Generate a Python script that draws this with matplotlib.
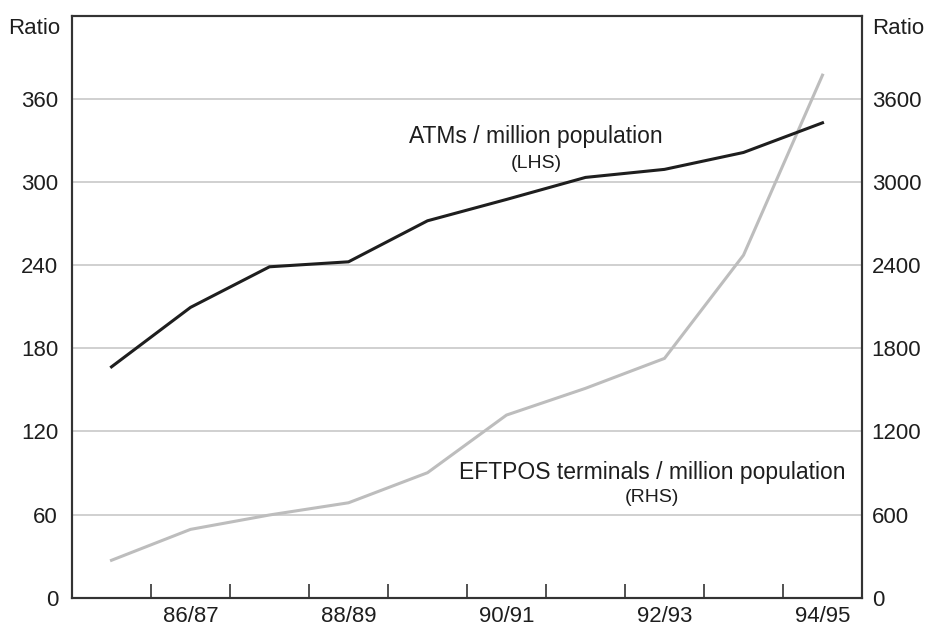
import matplotlib
matplotlib.use("Agg")
import matplotlib.pyplot as plt
import numpy as np

plt.rcParams['font.family'] = ['Liberation Sans', 'DejaVu Sans']

years = ["85/86", "86/87", "87/88", "88/89", "89/90", "90/91", "91/92", "92/93", "93/94", "94/95"]
atms = [166.6, 209.5, 238.8, 242.4, 272.0, 287.4, 303.3, 309.1, 321.3, 342.7]
eftpos = [270, 493, 597, 685, 902, 1318, 1511, 1727, 2472, 3771]
left_ticks = [0, 60, 120, 180, 240, 300, 360]
right_ticks = [0, 600, 1200, 1800, 2400, 3000, 3600]
label_years = ["86/87", "88/89", "90/91", "92/93", "94/95"]

fig = plt.figure(figsize=(9.28, 6.27), dpi=100)
ax = fig.add_axes([72/928, 1-597.7/627, (862-72)/928, (597.7-15.7)/627])
ax2 = ax.twinx()

x = np.arange(len(years))
ax2.plot(x, eftpos, color="#bdbdbd", lw=2.2, solid_joinstyle="miter")
ax.plot(x, atms, color="#1e1e1e", lw=2.2, solid_joinstyle="miter")
ax.set_zorder(ax2.get_zorder() + 1)
ax.patch.set_visible(False)

ax.set_xlim(-0.5, len(years) - 0.5)
ax.set_ylim(0, 420)
ax2.set_ylim(0, 4200)

ax.set_yticks(left_ticks)
ax2.set_yticks(right_ticks)
ax.tick_params(axis='y', length=0, pad=10, labelsize=16, colors="#1e1e1e")
ax2.tick_params(axis='y', length=0, pad=7, labelsize=16, colors="#1e1e1e")
for v in left_ticks[1:]:
    ax2.axhline(v * 10, color="#c8c8c8", lw=1.2, zorder=0)

ax.set_xticks(np.arange(0.5, len(years) - 0.5, 1.0))
ax.set_xticklabels([])
ax.set_xticks([years.index(y) for y in label_years], minor=True)
ax.set_xticklabels(label_years, minor=True)
ax.tick_params(axis='x', which='major', direction='in', length=10, width=1.2, color="#333333")
ax.tick_params(axis='x', which='minor', length=0, pad=6, labelsize=16, labelcolor="#1e1e1e")

for a in (ax, ax2):
    for s in a.spines.values():
        s.set_color("#333333")
        s.set_linewidth(1.5)

fig.text(8/928, 1-28/627, "Ratio", fontsize=16, ha="left", va="center", color="#1e1e1e")
fig.text(872/928, 1-28/627, "Ratio", fontsize=16, ha="left", va="center", color="#1e1e1e")

fig.text(536/928, 1-137/627, "ATMs / million population", fontsize=16.5, ha="center", va="center", color="#1e1e1e")
fig.text(536/928, 1-163/627, "(LHS)", fontsize=14, ha="center", va="center", color="#1e1e1e")
fig.text(652/928, 1-472/627, "EFTPOS terminals / million population", fontsize=16.5, ha="center", va="center", color="#1e1e1e")
fig.text(652/928, 1-498/627, "(RHS)", fontsize=14, ha="center", va="center", color="#1e1e1e")

fig.savefig("out.png", dpi=100)
